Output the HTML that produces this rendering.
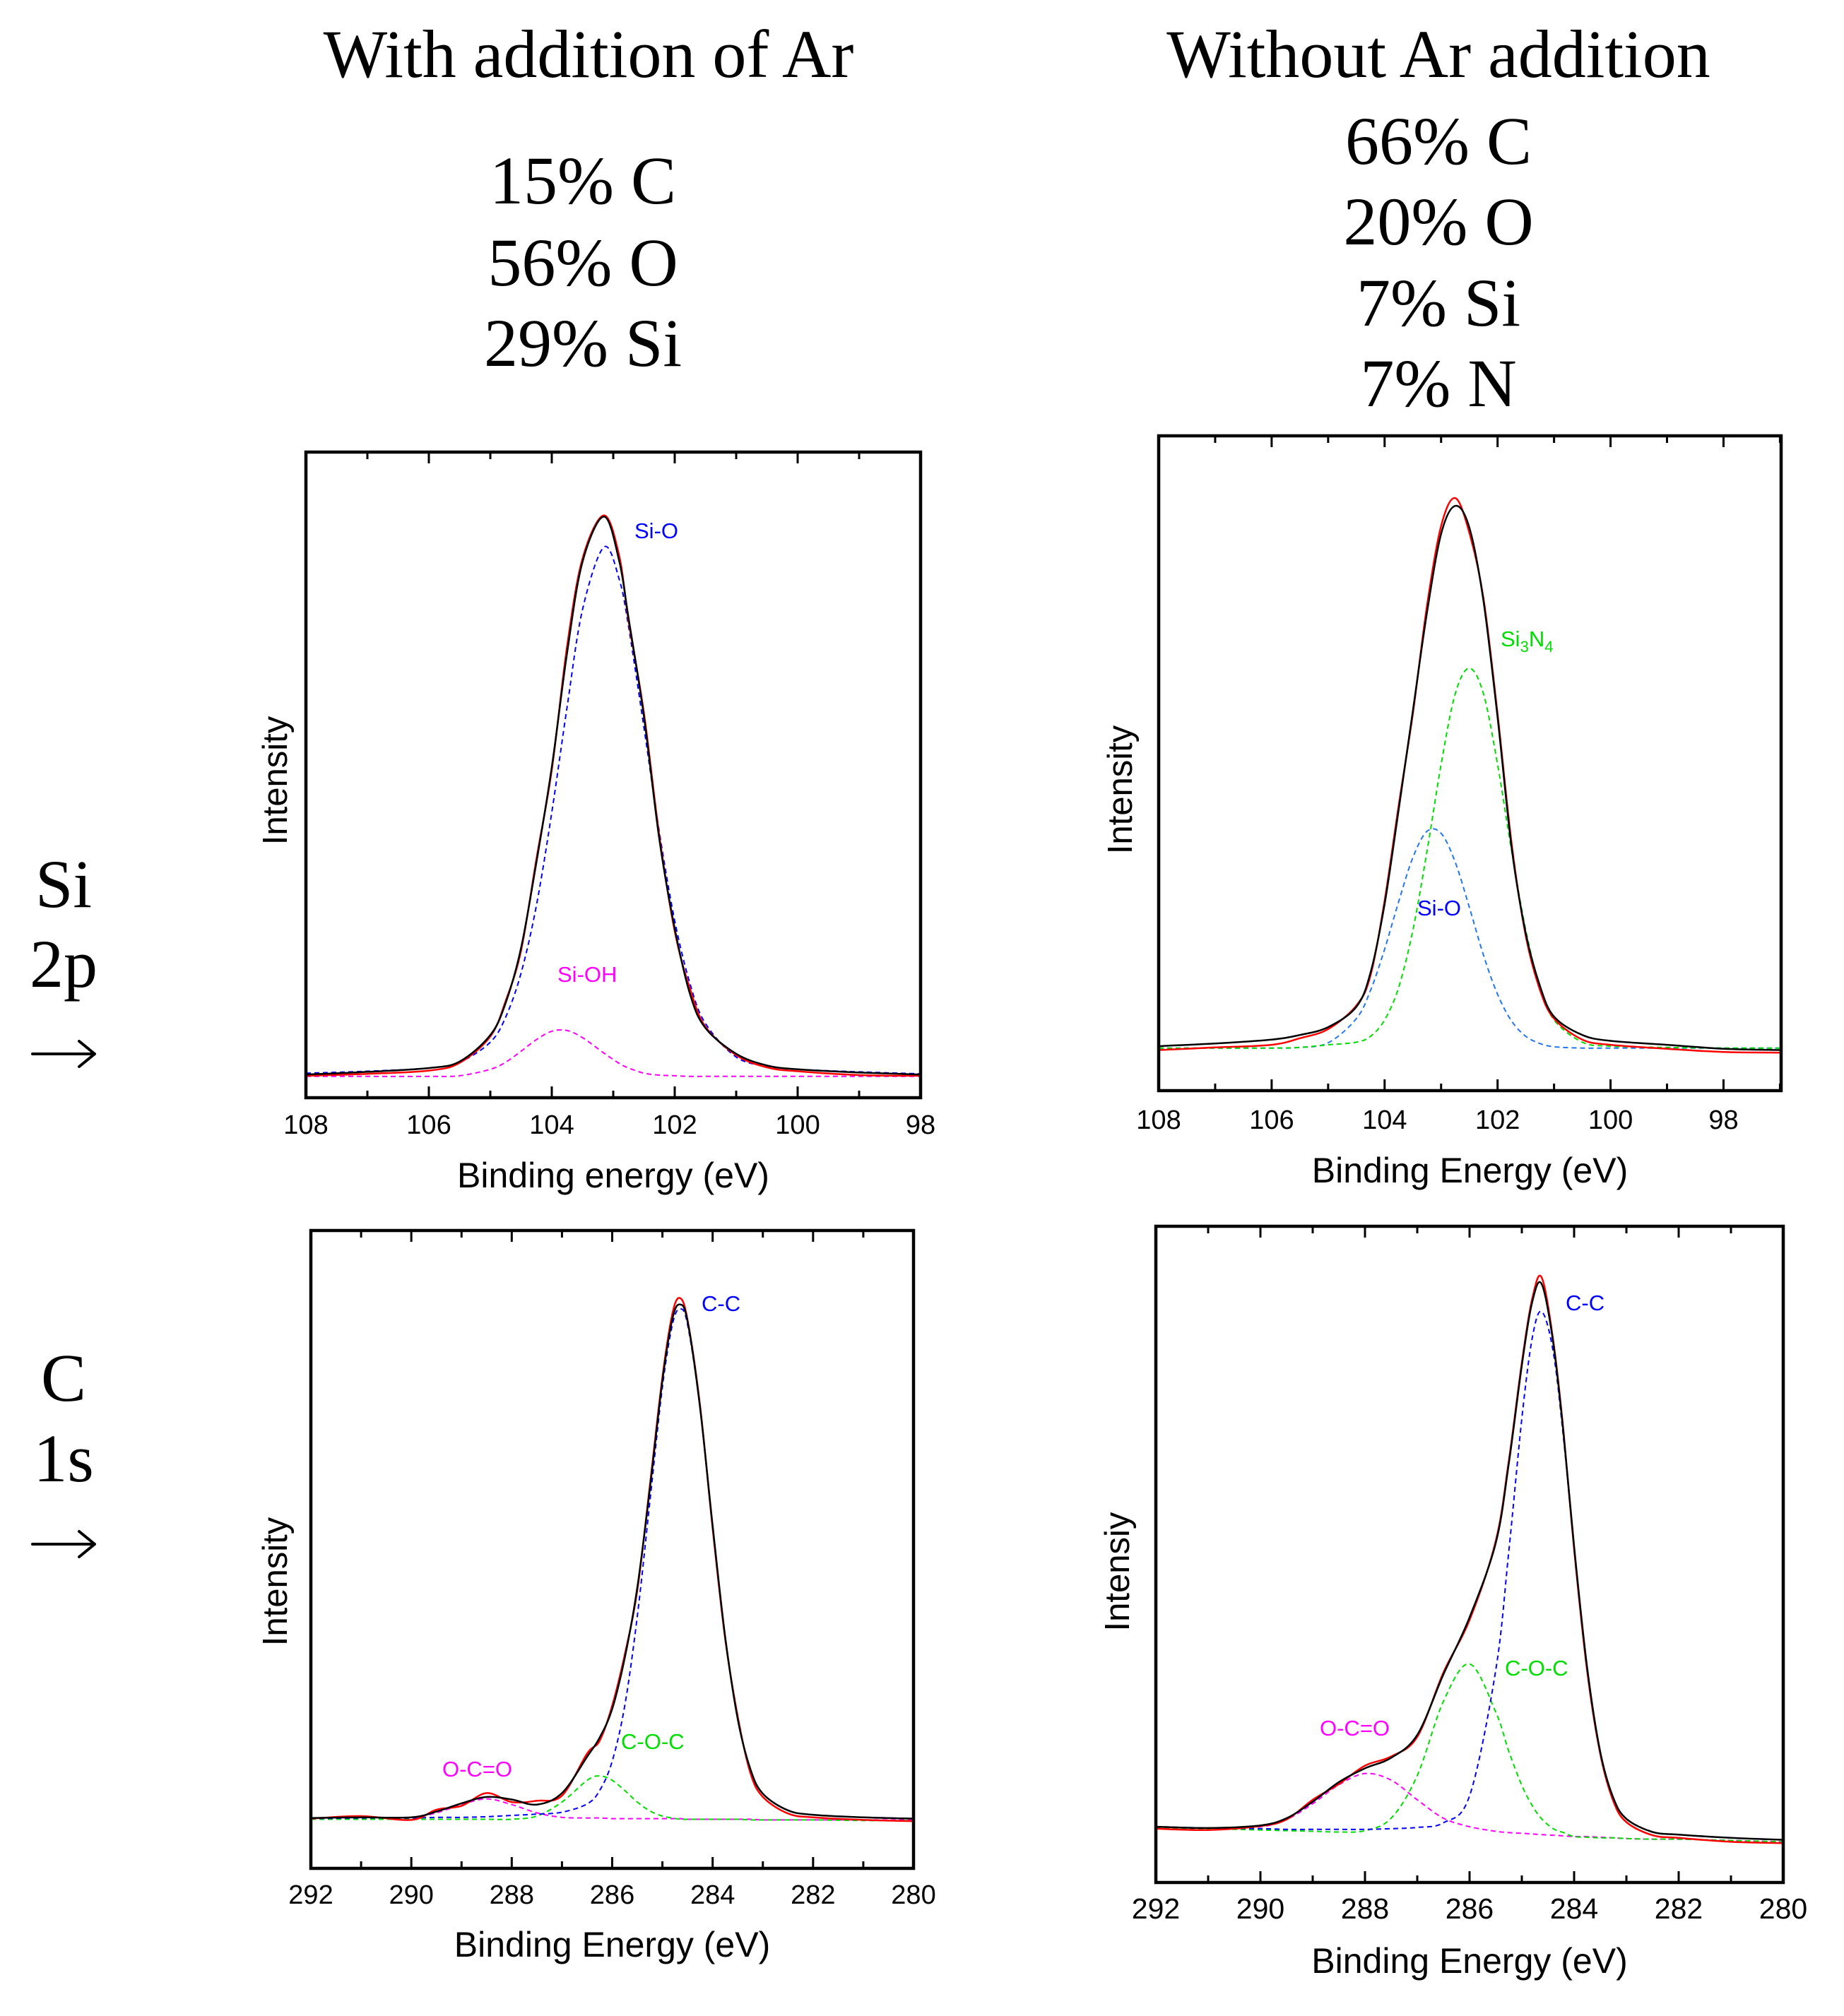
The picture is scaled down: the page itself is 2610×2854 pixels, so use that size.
<!DOCTYPE html>
<html><head><meta charset="utf-8">
<style>
html,body{margin:0;padding:0;background:#fff;}
#root{position:relative;width:2610px;height:2854px;overflow:hidden;background:#fff;}
svg{position:absolute;left:0;top:0;}
</style></head>
<body>
<div id="root">
<svg id="fig" width="2610" height="2854" viewBox="0 0 2610 2854">
  <g font-family="Liberation Serif, serif" font-size="96" fill="#000" text-anchor="middle">
    <text x="833" y="109">With addition of Ar</text>
    <text x="2036" y="109">Without Ar addition</text>
    <text x="825" y="288">15% C</text>
    <text x="825" y="404">56% O</text>
    <text x="825" y="518">29% Si</text>
    <text x="2036" y="232">66% C</text>
    <text x="2036" y="346">20% O</text>
    <text x="2036" y="461">7% Si</text>
    <text x="2036" y="575">7% N</text>
    <text x="90" y="1284">Si</text>
    <text x="90" y="1397">2p</text>
    <text x="90" y="1983">C</text>
    <text x="90" y="2097">1s</text>
  </g>
  <g stroke="#000" stroke-width="4" fill="none" stroke-linecap="round" stroke-linejoin="round">
    <path d="M46,1492 L134,1492 M112,1474 L134,1492 L112,1510"/>
    <path d="M46,2186 L134,2186 M112,2168 L134,2186 L112,2204"/>
  </g>
</svg>
</div>
<script>
// ---------- Panel A: Si 2p with Ar ----------
const energiesA = [108,107,106,105.5,105,104.75,104.5,104.25,104,103.75,103.5,103.15,102.9,102.75,102.5,102.25,102,101.75,101.5,101,100.5,100,99,98];
const siO_A   = [.038,.041,.046,.055,.086,.125,.193,.298,.442,.606,.756,.853,.802,.729,.573,.411,.274,.176,.115,.063,.049,.044,.040,.037];
const siOH_A  = [.033,.033,.033,.034,.044,.055,.072,.090,.103,.104,.093,.069,.053,.046,.038,.035,.034,.033,.033,.033,.033,.033,.033,.033];
const envA    = [.036,.040,.046,.056,.097,.147,.232,.365,.512,.690,.830,.900,.830,.742,.590,.400,.262,.160,.108,.068,.050,.044,.039,.036];
const rawA    = [.034,.037,.042,.054,.095,.150,.228,.370,.508,.700,.835,.902,.838,.738,.595,.405,.258,.168,.110,.066,.047,.041,.035,.034];
const ticksA  = [108,106,104,102,100,98];

// ---------- Panel B: Si 2p without Ar ----------
const energiesB = [108,107,106,105.5,105,104.5,104.25,104,103.75,103.5,103.25,103,102.75,102.5,102.25,102,101.75,101.5,101.25,101,100.5,100,99,98,97];
const si3n4_B = [.065,.065,.065,.066,.070,.074,.083,.108,.158,.245,.365,.498,.606,.645,.606,.498,.365,.245,.158,.108,.074,.068,.066,.065,.065];
const siO_B   = [.065,.065,.065,.066,.073,.110,.153,.216,.289,.356,.396,.393,.349,.280,.207,.147,.106,.083,.072,.067,.065,.065,.065,.065,.065];
const envB    = [.068,.072,.078,.085,.097,.128,.180,.285,.430,.580,.730,.850,.893,.860,.748,.570,.370,.240,.160,.113,.085,.076,.070,.064,.062];
const rawB    = [.062,.066,.070,.080,.094,.130,.176,.290,.436,.576,.740,.862,.905,.852,.752,.575,.376,.236,.154,.110,.078,.070,.064,.059,.058];
const ticksB  = [108,106,104,102,100,98];

// ---------- Panel C: C 1s with Ar ----------
const energiesC = [292,291,290,289.5,289,288.5,288,287.5,287,286.5,286.25,286,285.75,285.5,285.25,285,284.8,284.65,284.5,284.25,284,283.75,283.5,283.25,283,282.5,282,281,280];
const ccC     = [.078,.079,.079,.080,.080,.081,.083,.085,.088,.101,.122,.168,.255,.395,.575,.755,.853,.877,.853,.722,.537,.363,.234,.156,.117,.091,.084,.080,.078];
const cocC    = [.077,.077,.077,.077,.077,.077,.077,.082,.104,.138,.145,.138,.122,.104,.090,.082,.079,.077,.077,.077,.077,.077,.077,.076,.076,.076,.076,.075,.075];
const ocoC    = [.079,.079,.080,.087,.100,.109,.100,.087,.080,.079,.079,.078,.078,.078,.078,.078,.078,.078,.077,.077,.077,.077,.077,.077,.076,.076,.076,.076,.076];
const envC    = [.079,.080,.080,.089,.102,.112,.108,.100,.118,.175,.205,.250,.330,.440,.595,.765,.862,.884,.858,.722,.537,.363,.234,.156,.117,.091,.084,.080,.078];
const rawC    = [.078,.082,.076,.092,.098,.118,.104,.106,.114,.180,.200,.255,.335,.436,.600,.770,.870,.894,.860,.725,.533,.360,.238,.150,.112,.086,.080,.076,.074];
const ticksC  = [292,290,288,286,284,282,280];

// ---------- Panel D: C 1s without Ar ----------
const energiesD = [292,291,290,289.5,289,288.5,288,287.5,287,286.5,286,285.5,285.25,285,284.8,284.62,284.4,284.2,284,283.75,283.5,283.25,283,282.5,282,281,280];
const ccD     = [.085,.083,.082,.081,.081,.081,.081,.082,.084,.091,.132,.323,.504,.707,.830,.870,.809,.675,.510,.326,.198,.129,.097,.077,.073,.068,.065];
const cocD    = [.084,.082,.080,.079,.078,.077,.079,.098,.163,.276,.333,.260,.200,.148,.117,.097,.082,.076,.070,.069,.068,.068,.067,.066,.066,.064,.062];
const ocoD    = [.084,.082,.085,.096,.120,.149,.166,.156,.126,.098,.085,.078,.076,.075,.074,.073,.072,.071,.070,.070,.069,.068,.067,.066,.066,.064,.062];
const envD    = [.085,.083,.087,.098,.123,.153,.174,.190,.225,.317,.404,.517,.638,.788,.885,.912,.823,.682,.512,.327,.199,.129,.097,.077,.073,.068,.065];
const rawD    = [.082,.080,.086,.096,.126,.150,.178,.192,.222,.320,.400,.520,.642,.792,.890,.922,.826,.685,.508,.322,.196,.124,.092,.072,.068,.062,.060];
const ticksD  = [292,290,288,286,284,282,280];

const NS = "http://www.w3.org/2000/svg";
const svg = document.getElementById('fig');

function mk(tag, attrs, parent){
  const e = document.createElementNS(NS, tag);
  for (const k in attrs) e.setAttribute(k, attrs[k]);
  (parent||svg).appendChild(e);
  return e;
}

function smoothPath(pts){
  let d = `M${pts[0][0].toFixed(1)},${pts[0][1].toFixed(1)}`;
  for (let i=0;i<pts.length-1;i++){
    const p0 = pts[Math.max(0,i-1)], p1 = pts[i], p2 = pts[i+1], p3 = pts[Math.min(pts.length-1,i+2)];
    const c1x = p1[0]+(p2[0]-p0[0])/6, c1y = p1[1]+(p2[1]-p0[1])/6;
    const c2x = p2[0]-(p3[0]-p1[0])/6, c2y = p2[1]-(p3[1]-p1[1])/6;
    d += ` C${c1x.toFixed(1)},${c1y.toFixed(1)} ${c2x.toFixed(1)},${c2y.toFixed(1)} ${p2[0].toFixed(1)},${p2[1].toFixed(1)}`;
  }
  return d;
}

function panel(cfg){
  const g = mk('g', {});
  
  
  const L=cfg.L, R=cfg.R, T=cfg.T, B=cfg.B;
  const xs = e => L + (cfg.emax - e) / (cfg.emax - cfg.emin) * (R - L);
  const ys = v => B - v * (B - T);
  cfg.series.forEach(s => {
    const pts = cfg.energies.map((e,i)=>[xs(e), ys(s.values[i])]);
    const p = mk('path', {d: smoothPath(pts), fill:'none', stroke:s.color, 'stroke-width':s.dash?2:2.5,
      'stroke-dasharray': s.dash? '7 5':'none', 'stroke-linejoin':'round'}, g);
    
    
  });
  const fr = mk('rect', {x:L, y:T, width:R-L, height:B-T, fill:'none', stroke:'#000', 'stroke-width':4.5}, g);
  
  
  for (let e = Math.ceil(cfg.emin); e <= cfg.emax; e++){
    const major = (e % 2 === 0);
    const len = major ? 16 : 10;
    const x = xs(e);
    const t1 = mk('line', {x1:x, y1:B, x2:x, y2:B-len, stroke:'#000', 'stroke-width':3}, g);
    
    
    const t2 = mk('line', {x1:x, y1:T, x2:x, y2:T+len, stroke:'#000', 'stroke-width':3}, g);
    
    
  }
  cfg.ticks.forEach(v => {
    const t = mk('text', {x:xs(v), y:cfg.tickY, 'font-family':'Liberation Sans, sans-serif', 'font-size':cfg.tickFs, 'text-anchor':'middle', fill:'#000'}, g);
    t.textContent = String(v);
    
    
  });
  const xt = mk('text', {x:(L+R)/2, y:cfg.titleY, 'font-family':'Liberation Sans, sans-serif', 'font-size':50, 'text-anchor':'middle', fill:'#000'}, g);
  xt.textContent = cfg.xtitle;
  
  
  const yt = mk('text', {x:0, y:0, transform:`translate(${cfg.ylX},${cfg.ylY}) rotate(-90)`, 'font-family':'Liberation Sans, sans-serif', 'font-size':49, 'text-anchor':'middle', 'dominant-baseline':'central', fill:'#000'}, g);
  yt.textContent = cfg.ytitle;
  
  
  cfg.labels.forEach(lb => {
    const t = mk('text', {x:lb.x, y:lb.y, 'font-family':'Liberation Sans, sans-serif', 'font-size':31, fill:lb.color}, g);
    t.innerHTML = lb.html;
    
    
  });
}

const BLUE='#0000ff', MAG='#ff00ff', GRN='#00dd00', RED='#ff0000', BLK='#000000';

panel({name:'panel-si2p-with-ar', L:433,R:1303,T:640,B:1554, emax:108, emin:98, energies:energiesA, ticks:ticksA,
  tickY:1605, tickFs:38, titleY:1681, xtitle:'Binding energy (eV)', ytitle:'Intensity', ylX:390, ylY:1105,
  series:[{name:'si-oh-component',values:siOH_A,color:MAG,dash:true},{name:'si-o-component',values:siO_A,color:BLUE,dash:true},
          {name:'measured-spectrum',values:rawA,color:RED},{name:'fit-envelope',values:envA,color:BLK}],
  labels:[{name:'label-si-o',x:898,y:762,color:BLUE,html:'Si-O'},{name:'label-si-oh',x:789,y:1390,color:MAG,html:'Si-OH'}]});

panel({name:'panel-si2p-without-ar', L:1640,R:2521,T:617,B:1544, emax:108, emin:96.98, energies:energiesB, ticks:ticksB,
  tickY:1598, tickFs:38, titleY:1674, xtitle:'Binding Energy (eV)', ytitle:'Intensity', ylX:1586, ylY:1118,
  series:[{name:'si-o-component',values:siO_B,color:'#2277ee',dash:true},{name:'si3n4-component',values:si3n4_B,color:GRN,dash:true},
          {name:'measured-spectrum',values:rawB,color:RED},{name:'fit-envelope',values:envB,color:BLK}],
  labels:[{name:'label-si3n4',x:2124,y:915,color:GRN,html:'Si<tspan font-size="22" dy="8">3</tspan><tspan dy="-8">N</tspan><tspan font-size="22" dy="8">4</tspan>'},
          {name:'label-si-o',x:2006,y:1296,color:BLUE,html:'Si-O'}]});

panel({name:'panel-c1s-with-ar', L:440,R:1293,T:1742,B:2645, emax:292, emin:280, energies:energiesC, ticks:ticksC,
  tickY:2695, tickFs:38, titleY:2770, xtitle:'Binding Energy (eV)', ytitle:'Intensity', ylX:390, ylY:2239,
  series:[{name:'o-c-o-component',values:ocoC,color:MAG,dash:true},{name:'c-o-c-component',values:cocC,color:GRN,dash:true},
          {name:'c-c-component',values:ccC,color:BLUE,dash:true},{name:'measured-spectrum',values:rawC,color:RED},{name:'fit-envelope',values:envC,color:BLK}],
  labels:[{name:'label-c-c',x:993,y:1856,color:BLUE,html:'C-C'},{name:'label-c-o-c',x:879,y:2476,color:GRN,html:'C-O-C'},
          {name:'label-o-c-o',x:626,y:2515,color:MAG,html:'O-C=O'}]});

panel({name:'panel-c1s-without-ar', L:1636,R:2524,T:1736,B:2665, emax:292, emin:280, energies:energiesD, ticks:ticksD,
  tickY:2716, tickFs:41, titleY:2793, xtitle:'Binding Energy (eV)', ytitle:'Intensiy', ylX:1582, ylY:2225,
  series:[{name:'o-c-o-component',values:ocoD,color:MAG,dash:true},{name:'c-o-c-component',values:cocD,color:GRN,dash:true},
          {name:'c-c-component',values:ccD,color:BLUE,dash:true},{name:'measured-spectrum',values:rawD,color:RED},{name:'fit-envelope',values:envD,color:BLK}],
  labels:[{name:'label-c-c',x:2216,y:1855,color:BLUE,html:'C-C'},{name:'label-c-o-c',x:2130,y:2372,color:GRN,html:'C-O-C'},
          {name:'label-o-c-o',x:1868,y:2457,color:MAG,html:'O-C=O'}]});
</script>
</body></html>
